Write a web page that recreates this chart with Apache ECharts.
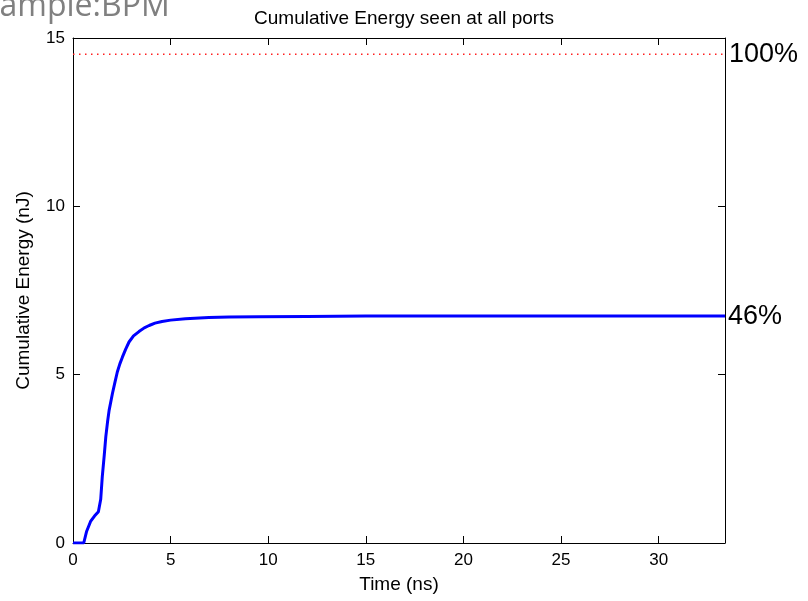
<!DOCTYPE html>
<html>
<head>
<meta charset="utf-8">
<script src="https://cdn.jsdelivr.net/npm/echarts@6/dist/echarts.min.js"></script>
<style>
html,body{margin:0;padding:0;background:#fff;}
#c{width:808px;height:601px;}
</style>
</head>
<body>
<div id="c"></div>
<script>
// Data
var timeNs = [0, 0.55, 0.7, 0.9, 1.1, 1.3, 1.42, 1.5, 1.6, 1.68, 1.77, 1.85, 2.02, 2.15, 2.27, 2.4, 2.53, 2.7, 2.87, 3.1, 3.38, 3.65, 3.9, 4.2, 4.56, 5.0, 5.76, 6.96, 8, 9.5, 12, 15, 20, 25, 30, 33.4];
var cumEnergy = [0, 0, 0.35, 0.64, 0.8, 0.93, 1.3, 1.97, 2.6, 3.15, 3.6, 3.94, 4.44, 4.78, 5.08, 5.32, 5.52, 5.76, 5.97, 6.15, 6.28, 6.39, 6.46, 6.53, 6.58, 6.62, 6.66, 6.70, 6.71, 6.72, 6.73, 6.74, 6.74, 6.74, 6.74, 6.74];
var totalEnergy = 14.52;
var xRange = [0, 33.4];
var yRange = [0, 15];
var xTickStep = 5;
var yTickStep = 5;
var totalLabel = '100%';
var seenLabel = '46%';
var titleText = 'Cumulative Energy seen at all ports';
var xName = 'Time (ns)';
var yName = 'Cumulative Energy (nJ)';
var cornerText = 'Example:BPM';

var FONT = 'Liberation Sans';
var curve = timeNs.map(function (t, i) { return [t, cumEnergy[i]]; });
var totalLine = [[xRange[0], totalEnergy], [xRange[1], totalEnergy]];

function tickFmt(step) {
  return function (v) {
    var r = v / step;
    return Math.abs(r - Math.round(r)) < 1e-6 ? String(Math.round(v)) : '';
  };
}

var chart = echarts.init(document.getElementById('c'), null, {renderer: 'canvas'});
chart.setOption({
  animation: false,
  backgroundColor: '#ffffff',
  title: {
    text: titleText,
    left: 399,
    textAlign: 'center',
    top: 4,
    textStyle: {fontFamily: FONT, fontSize: 19, fontWeight: 'normal', color: '#000'}
  },
  graphic: [{
    type: 'text',
    left: -35,
    top: -9,
    style: {text: cornerText, font: '32px "Open Sans"', fill: '#808080'}
  }],
  grid: {left: 73, right: 83, top: 38, bottom: 58, containLabel: false},
  xAxis: [{
    type: 'value', min: xRange[0], max: xRange[1], interval: xTickStep,
    name: xName, nameLocation: 'middle', nameGap: 32,
    nameTextStyle: {fontFamily: FONT, fontSize: 19, color: '#000'},
    axisLine: {show: true, onZero: false, lineStyle: {color: '#000', width: 1}},
    axisTick: {show: true, inside: true, length: 7, lineStyle: {color: '#000'}},
    axisLabel: {fontFamily: FONT, fontSize: 17, color: '#000', margin: 9, showMaxLabel: false, formatter: tickFmt(xTickStep)},
    splitLine: {show: false}
  }, {
    type: 'value', position: 'top', min: xRange[0], max: xRange[1], interval: xTickStep,
    axisLine: {show: true, onZero: false, lineStyle: {color: '#000', width: 1}},
    axisTick: {show: true, inside: true, length: 7, lineStyle: {color: '#000'}},
    axisLabel: {show: false},
    splitLine: {show: false}
  }],
  yAxis: [{
    type: 'value', min: yRange[0], max: yRange[1], interval: yTickStep,
    name: yName, nameLocation: 'middle', nameGap: 40,
    nameTextStyle: {fontFamily: FONT, fontSize: 19, color: '#000'},
    axisLine: {show: true, onZero: false, lineStyle: {color: '#000', width: 1}},
    axisTick: {show: true, inside: true, length: 7, lineStyle: {color: '#000'}},
    axisLabel: {fontFamily: FONT, fontSize: 17, color: '#000', margin: 8},
    splitLine: {show: false}
  }, {
    type: 'value', position: 'right', min: yRange[0], max: yRange[1], interval: yTickStep,
    axisLine: {show: true, onZero: false, lineStyle: {color: '#000', width: 1}},
    axisTick: {show: true, inside: true, length: 7, lineStyle: {color: '#000'}},
    axisLabel: {show: false},
    splitLine: {show: false}
  }],
  series: [{
    type: 'line',
    data: totalLine,
    symbol: 'none',
    lineStyle: {color: '#ff2020', width: 1.5, type: [1.5, 4.5]},
    endLabel: {show: true, formatter: totalLabel, fontFamily: FONT, fontSize: 27, color: '#000', distance: 4},
    z: 3
  }, {
    type: 'line',
    data: curve,
    symbol: 'none',
    lineStyle: {color: '#0000ff', width: 3},
    endLabel: {show: true, formatter: seenLabel, fontFamily: FONT, fontSize: 27, color: '#000', distance: 3},
    z: 4
  }]
});
</script>
</body>
</html>
